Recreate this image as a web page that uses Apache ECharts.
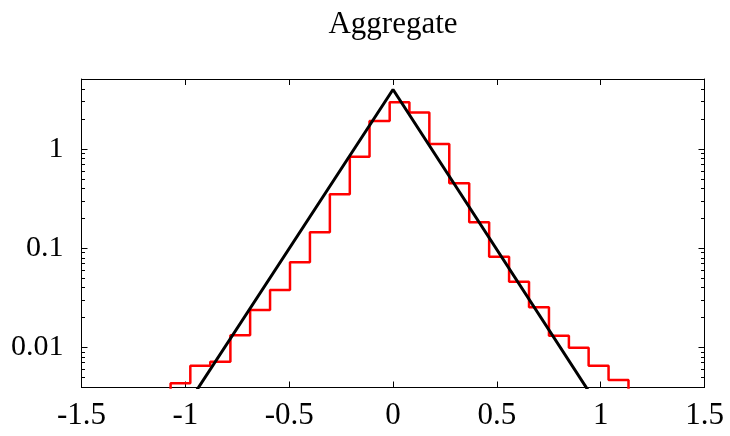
<!DOCTYPE html>
<html>
<head>
<meta charset="utf-8">
<script src="https://cdn.jsdelivr.net/npm/echarts@6/dist/echarts.min.js"></script>
<style>
html,body{margin:0;padding:0;background:#fff;}
#chart{width:730px;height:436px;}
</style>
</head>
<body>
<div id="chart"></div>
<script>
// Histogram bin edges (x) and bin heights (density, log scale)
var binEdges = [-1.071, -0.976, -0.880, -0.783, -0.688, -0.592, -0.496, -0.400, -0.304, -0.208, -0.113, -0.016,
                0.079, 0.175, 0.271, 0.367, 0.463, 0.559, 0.655, 0.751, 0.847, 0.942, 1.038, 1.134];
var binValues = [0.00435, 0.00653, 0.00718, 0.01325, 0.0238, 0.0379, 0.0721, 0.1446, 0.349, 0.836, 1.915, 2.96,
                 2.34, 1.123, 0.451, 0.1824, 0.0821, 0.0459, 0.0254, 0.01312, 0.00993, 0.00653, 0.00469];
// Fitted curve (straight in log space)
var fitX = [-1.1, 0, 1.1];
var fitY = [0.00118, 3.98, 0.00112];
// Axis settings
var xTicks = {min: -1.5, max: 1.5, interval: 0.5};
var yMin = 0.00394, yMax = 5.08;
var yLabelValues = [0.01, 0.1, 1];
var yLabelTexts = ['0.01', '0.1', '1'];
var yMinorValues = [0.004, 0.005, 0.006, 0.007, 0.008, 0.009,
                    0.02, 0.03, 0.04, 0.05, 0.06, 0.07, 0.08, 0.09,
                    0.2, 0.3, 0.4, 0.5, 0.6, 0.7, 0.8, 0.9,
                    2, 3, 4, 5];
var titleText = 'Aggregate';

var FONT = 'Liberation Serif';
var FSX = 31, FSY = 30, FST = 31;

// Build step path
var stepData = [[binEdges[0], 0.001]];
for (var i = 0; i < binValues.length; i++) {
  stepData.push([binEdges[i], binValues[i]]);
}
stepData.push([binEdges[binEdges.length - 1], binValues[binValues.length - 1]]);
stepData.push([binEdges[binEdges.length - 1], 0.001]);

var fitData = fitX.map(function (x, i) { return [x, fitY[i]]; });

function xAxisDef(pos, showLabel) {
  return {
    type: 'value', position: pos, min: xTicks.min, max: xTicks.max, interval: xTicks.interval,
    axisLine: {show: true, onZero: false, lineStyle: {color: '#000', width: 1}},
    axisTick: {show: true, inside: true, length: 6, lineStyle: {color: '#000', width: 1}},
    axisLabel: {show: showLabel, color: '#000', fontFamily: FONT, fontSize: FSX, margin: 13},
    splitLine: {show: false}
  };
}
function yAxisDef(pos, showLabel, tickVals, tickLen, showLine) {
  return {
    type: 'log', logBase: 10, position: pos, min: yMin, max: yMax,
    axisLine: {show: showLine, onZero: false, lineStyle: {color: '#000', width: 1}},
    axisTick: {show: true, inside: true, length: tickLen, customValues: tickVals, lineStyle: {color: '#000', width: 1}},
    axisLabel: {show: showLabel, customValues: yLabelValues, color: '#000', fontFamily: FONT, fontSize: FSY, margin: 18,
      formatter: function (v) {
        for (var k = 0; k < yLabelValues.length; k++) {
          if (Math.abs(v - yLabelValues[k]) / yLabelValues[k] < 1e-6) return yLabelTexts[k];
        }
        return '';
      }},
    splitLine: {show: false},
    minorTick: {show: false}
  };
}

var chart = echarts.init(document.getElementById('chart'), null, {renderer: 'canvas'});
chart.setOption({
  animation: false,
  backgroundColor: '#fff',
  title: {
    text: titleText, left: 388, top: 4, textAlign: 'center',
    textStyle: {fontFamily: FONT, fontSize: FST, fontWeight: 'normal', color: '#000'}
  },
  grid: {left: 81.5, right: 25.5, top: 79, bottom: 48.5, containLabel: false},
  xAxis: [xAxisDef('bottom', true), xAxisDef('top', false)],
  yAxis: [
    yAxisDef('left', true, yLabelValues, 6, true),
    yAxisDef('right', false, yLabelValues, 6, true),
    yAxisDef('left', false, yMinorValues, 3.5, false),
    yAxisDef('right', false, yMinorValues, 3.5, false)
  ],
  series: [
    {
      type: 'line', xAxisIndex: 0, yAxisIndex: 0, data: stepData, step: 'end',
      showSymbol: false, symbol: 'none', clip: true,
      lineStyle: {color: '#ff0000', width: 2.5}
    },
    {
      type: 'line', xAxisIndex: 0, yAxisIndex: 0, data: fitData,
      showSymbol: false, symbol: 'none', clip: true,
      lineStyle: {color: '#000000', width: 3}
    }
  ]
});
</script>
</body>
</html>
